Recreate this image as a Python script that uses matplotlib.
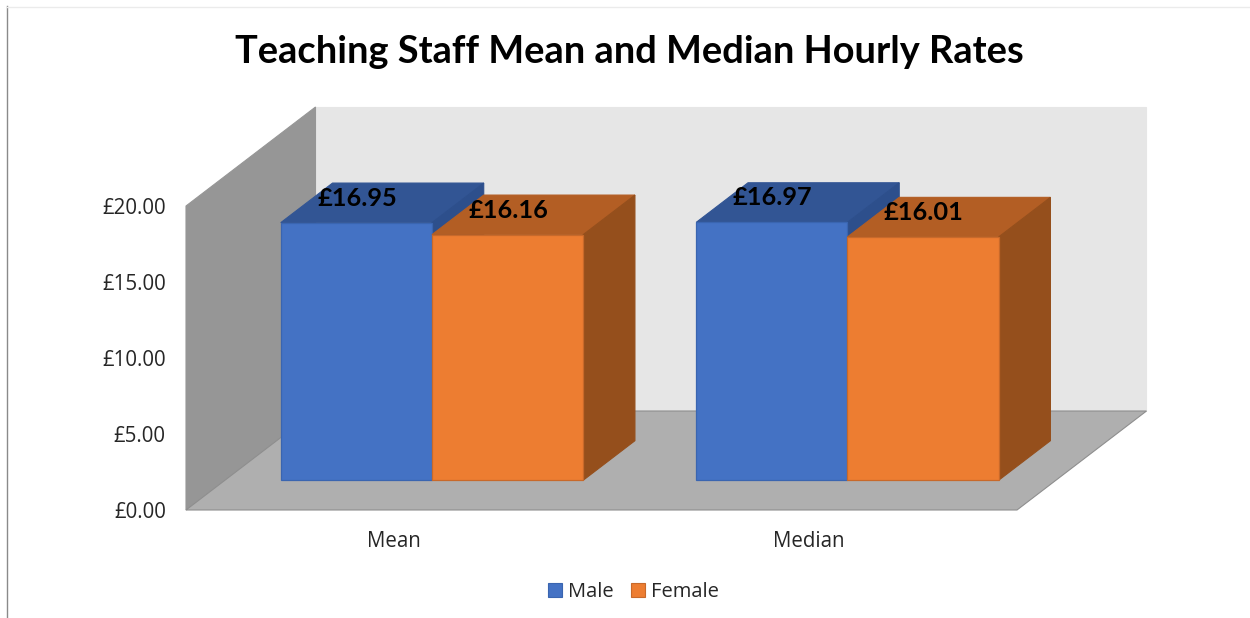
import matplotlib
matplotlib.use("Agg")
import matplotlib.pyplot as plt
from matplotlib.lines import Line2D
from matplotlib.patches import Polygon, Patch

categories = ["Mean", "Median"]
series_names = ["Male", "Female"]
male_values = [16.95, 16.97]
female_values = [16.16, 16.01]
y_ticks = [0, 5, 10, 15, 20]
y_tick_labels = ["£0.00", "£5.00", "£10.00", "£15.00", "£20.00"]
title_text = "Teaching Staff Mean and Median Hourly Rates"

W, H = 1250, 618
X0, X1, Y0, Y20 = 186, 1017, 510, 206
PX_X = (X1 - X0) / 2.0
PX_Y = (Y0 - Y20) / 20.0
DEPTH_X = 129.5 / PX_X    # floor depth in x units
DEPTH_Y = 99 / PX_Y       # floor depth in value units
BAR_W = 151.2 / PX_X
GROUP_OFF = 0.1345
BAR_D0, BAR_D1 = 0.30, 0.70

COL = {"Male": ("#4472C4", "#325594", "#2D4F8C", "#3A65B0"),
       "Female": ("#ED7D31", "#B35E24", "#954F1C", "#C8692A")}

fig = plt.figure(figsize=(W / 100, H / 100), dpi=100, facecolor="white")
ax = fig.add_axes([X0 / W, 1 - Y0 / H, (X1 - X0) / W, (Y0 - Y20) / H])
ax.set_xlim(0, 2)
ax.set_ylim(0, 20)
ax.patch.set_visible(False)
for s in ax.spines.values():
    s.set_visible(False)


def pt(x, y, d):
    """Oblique projection: x category units, y value, d depth 0..1."""
    return (x + d * DEPTH_X, y + d * DEPTH_Y)


def face(pts, fc, ec=None, z=1, lw=0.8):
    ax.add_patch(Polygon(pts, closed=True, facecolor=fc, edgecolor=ec or fc,
                         linewidth=lw, zorder=z, clip_on=False))


# walls and floor
top = y_ticks[-1]
face([pt(0, 0, 1), pt(2, 0, 1), pt(2, top, 1), pt(0, top, 1)], "#E6E6E6", z=1)
face([pt(0, 0, 0), pt(0, 0, 1), pt(0, top, 1), pt(0, top, 0)], "#969696", z=2)
face([pt(0, 0, 0), pt(2, 0, 0), pt(2, 0, 1), pt(0, 0, 1)], "#AFAFAF", ec="#8E8E8E", z=2)

# bars
z = 3
for i, cat in enumerate(categories):
    for j, (name, vals) in enumerate(zip(series_names, (male_values, female_values))):
        front, topc, side, edge = COL[name]
        v = vals[i]
        x = i + GROUP_OFF + j * BAR_W
        xr = x + BAR_W
        d0, d1 = BAR_D0, BAR_D1
        # the base of the bar sits on the floor at depth d0
        b = d0 * DEPTH_Y
        fx = d0 * DEPTH_X
        dd = d1 - d0
        xa, xb = x + fx, xr + fx
        face([(xa, b + v), (xb, b + v), pt(xb, b + v, dd), pt(xa, b + v, dd)], topc, z=z)
        face([(xb, b), (xb, b + v), pt(xb, b + v, dd), pt(xb, b, dd)], side, z=z)
        ax.bar(xa, v, width=BAR_W, bottom=b, align="edge", color=front,
               edgecolor=edge, linewidth=0.9, zorder=z + 0.5)
        ax.annotate(f"£{v:.2f}", xy=(xa + BAR_W / 2, b + v), xytext=(0.5, 17.6),
                    textcoords="offset points", ha="center", va="center",
                    fontsize=18.3, fontweight="bold", family="Lato",
                    color="black", zorder=50, annotation_clip=False)
        z += 1

# axes ticks
ax.set_yticks(y_ticks)
ax.set_yticklabels(y_tick_labels, family="Open Sans", fontsize=14.8, color="#262626")
ax.set_xticks([0.5, 1.5])
ax.set_xticklabels(categories, family="Open Sans", fontsize=14.8, color="#262626")
ax.tick_params(axis="y", length=0, pad=14.5)
ax.tick_params(axis="x", length=0, pad=15)

# title
fig.text(629.5 / W, 1 - 52 / H, title_text, ha="center", va="center",
         family="Lato", fontweight="bold", fontsize=27.4, color="black")

# legend
handles = [Patch(facecolor=COL[n][0], edgecolor=COL[n][3], linewidth=0.8, label=n)
           for n in series_names]
fig.legend(handles=handles, loc="center", bbox_to_anchor=(633.5 / W, 1 - 592 / H),
           ncol=2, frameon=False, prop={"family": "Open Sans", "size": 14.5},
           handlelength=0.7, handleheight=0.7, handletextpad=0.3,
           columnspacing=0.85, labelcolor="#262626")

# outer chart frame fragments
fig.add_artist(Line2D([6.5 / W, 6.5 / W], [0, 1 - 6 / H], color="#8A8A8A", lw=1.0))
fig.add_artist(Line2D([6.5 / W, 1], [1 - 6.5 / H, 1 - 6.5 / H], color="#EBEBEB", lw=1.0))

fig.savefig("out.png", dpi=100, facecolor="white")
